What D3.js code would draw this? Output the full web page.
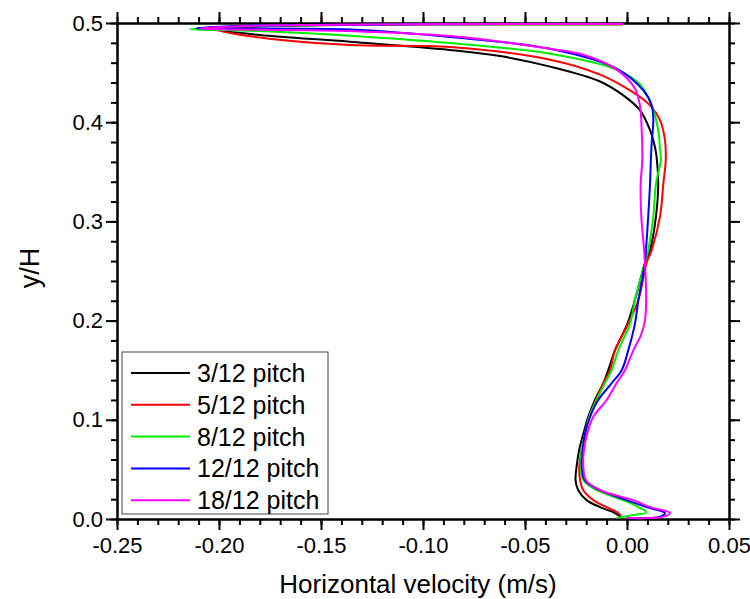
<!DOCTYPE html>
<head>
  <title>Horizontal velocity profiles</title>
  <meta charset="utf-8">
  <style>
    body { margin: 0; background: #fff; }
    text { font-family: "Liberation Sans", Arial, sans-serif; fill: #000; }
  </style>
</head>
<body>
  <script src="https://cdn.jsdelivr.net/npm/d3@7"></script>
  <script>
    // series: [velocity (m/s), y/H]
    var pitch3 = [
      [-0.0031, 0.002], [-0.0059, 0.006], [-0.0132, 0.012], [-0.0198, 0.019], [-0.0239, 0.029],
      [-0.0252, 0.039], [-0.0247, 0.053], [-0.0234, 0.070], [-0.0214, 0.086], [-0.0190, 0.103],
      [-0.0157, 0.120], [-0.0116, 0.137], [-0.0092, 0.150], [-0.0059, 0.170], [0.0002, 0.197],
      [0.0039, 0.221], [0.0088, 0.258], [0.0113, 0.271], [0.0142, 0.305], [0.0153, 0.338],
      [0.0145, 0.365], [0.0137, 0.375], [0.0113, 0.392], [0.0064, 0.412], [-0.0018, 0.427],
      [-0.0132, 0.441], [-0.0377, 0.456], [-0.0623, 0.4667], [-0.0868, 0.4728], [-0.1358, 0.4812],
      [-0.1799, 0.4879], [-0.2005, 0.4935], [-0.185, 0.4963], [-0.15, 0.4978], [-0.1, 0.4987],
      [-0.002, 0.4988]
    ];
    var pitch5 = [
      [-0.0026, 0.002], [-0.0043, 0.006], [-0.0100, 0.012], [-0.0165, 0.019], [-0.0214, 0.029],
      [-0.0230, 0.039], [-0.0234, 0.053], [-0.0222, 0.070], [-0.0206, 0.086], [-0.0185, 0.103],
      [-0.0152, 0.120], [-0.0116, 0.137], [-0.0083, 0.150], [-0.0059, 0.170], [0.0006, 0.197],
      [0.0056, 0.221], [0.0096, 0.258], [0.0121, 0.271], [0.0162, 0.305], [0.0178, 0.338],
      [0.0190, 0.362], [0.0186, 0.382], [0.0162, 0.402], [0.0113, 0.417], [0.0015, 0.432],
      [-0.0132, 0.448], [-0.0377, 0.463], [-0.0868, 0.4758], [-0.1358, 0.4778], [-0.1799, 0.4854],
      [-0.2015, 0.4935], [-0.185, 0.4965], [-0.15, 0.4979], [-0.1, 0.4987], [-0.002, 0.4988]
    ];
    var pitch8 = [
      [-0.0051, 0.001], [0.0031, 0.004], [0.0096, 0.0067], [0.0056, 0.012], [-0.0018, 0.019],
      [-0.0149, 0.029], [-0.0214, 0.039], [-0.0227, 0.053], [-0.0222, 0.070], [-0.0206, 0.086],
      [-0.0185, 0.103], [-0.0149, 0.120], [-0.0108, 0.137], [-0.0075, 0.150], [-0.0043, 0.170],
      [0.0015, 0.197], [0.0039, 0.221], [0.0088, 0.258], [0.0104, 0.271], [0.0129, 0.305],
      [0.0142, 0.338], [0.0166, 0.362], [0.0162, 0.372], [0.0153, 0.392], [0.0121, 0.417],
      [0.0064, 0.438], [-0.0051, 0.453], [-0.0377, 0.469], [-0.0868, 0.4798], [-0.1358, 0.4872],
      [-0.1799, 0.4919], [-0.2142, 0.4938], [-0.19, 0.4964], [-0.15, 0.4979], [-0.1, 0.4987],
      [-0.002, 0.4988]
    ];
    var pitch12 = [
      [-0.0002, 0.001], [0.0162, 0.0024], [0.0186, 0.006], [0.0096, 0.012], [-0.0002, 0.019],
      [-0.0132, 0.029], [-0.0206, 0.039], [-0.0222, 0.053], [-0.0217, 0.070], [-0.0206, 0.086],
      [-0.0181, 0.103], [-0.0141, 0.120], [-0.0075, 0.137], [-0.0026, 0.150], [0.0006, 0.170],
      [0.0039, 0.197], [0.0056, 0.221], [0.0088, 0.258], [0.0093, 0.271], [0.0104, 0.305],
      [0.0113, 0.338], [0.0117, 0.362], [0.0121, 0.379], [0.0129, 0.402], [0.0121, 0.417],
      [0.0080, 0.432], [-0.0051, 0.454], [-0.0377, 0.474], [-0.0868, 0.4859], [-0.1358, 0.4935],
      [-0.2110, 0.4948], [-0.19, 0.4970], [-0.15, 0.4982], [-0.1, 0.4988], [-0.002, 0.4989]
    ];
    var pitch18 = [
      [-0.0002, 0.001], [0.0178, 0.0024], [0.0211, 0.006], [0.0113, 0.012], [0.0031, 0.019],
      [-0.0132, 0.029], [-0.0201, 0.039], [-0.0214, 0.053], [-0.0211, 0.070], [-0.0195, 0.086],
      [-0.0165, 0.103], [-0.0100, 0.120], [-0.0051, 0.137], [-0.0010, 0.150], [0.0031, 0.170],
      [0.0068, 0.185], [0.0088, 0.200], [0.0094, 0.221], [0.0090, 0.250], [0.0084, 0.271],
      [0.0070, 0.305], [0.0067, 0.338], [0.0075, 0.362], [0.0072, 0.392], [0.0064, 0.416],
      [0.0039, 0.434], [-0.0051, 0.453], [-0.0214, 0.468], [-0.0377, 0.474], [-0.0868, 0.4869],
      [-0.1358, 0.4919], [-0.2093, 0.4945], [-0.19, 0.4968], [-0.15, 0.4981], [-0.1, 0.4988],
      [-0.002, 0.4989]
    ];

    var seriesNames = ["3/12 pitch", "5/12 pitch", "8/12 pitch", "12/12 pitch", "18/12 pitch"];
    var seriesColors = ["#000000", "#ff0000", "#00ee00", "#0000ff", "#ff00ff"];
    var seriesData = [pitch3, pitch5, pitch8, pitch12, pitch18];

    var xTicks = [-0.25, -0.20, -0.15, -0.10, -0.05, 0.00, 0.05];
    var yTicks = [0.0, 0.1, 0.2, 0.3, 0.4, 0.5];

    var W = 750, H = 599;
    var plot = {left: 117, right: 729, top: 23, bottom: 519};

    var svg = d3.select("body").append("svg")
      .attr("width", W)
      .attr("height", H);

    var x = d3.scaleLinear().domain([-0.25, 0.05]).range([plot.left, plot.right]);
    var y = d3.scaleLinear().domain([0, 0.5]).range([plot.bottom, plot.top]);

    var xMinor = d3.range(-25, 6).map(function(i) { return i / 100; });
    var yMinor = d3.range(0, 26).map(function(i) { return i / 50; });

    function styleAxis(g) {
      g.selectAll(".domain").attr("stroke", "#000").attr("stroke-width", 2);
      g.selectAll(".tick line").attr("stroke", "#000").attr("stroke-width", 2);
      g.selectAll(".tick text").style("font-size", "22px")
        .style("font-family", '"Liberation Sans", Arial, sans-serif').attr("fill", "#000");
    }

    // minor ticks on all four sides
    svg.append("g").attr("transform", "translate(0," + plot.bottom + ")")
      .call(d3.axisBottom(x).tickValues(xMinor).tickSize(6).tickSizeOuter(0).tickFormat(""))
      .call(styleAxis);
    svg.append("g").attr("transform", "translate(0," + plot.top + ")")
      .call(d3.axisTop(x).tickValues(xMinor).tickSize(6).tickSizeOuter(0).tickFormat(""))
      .call(styleAxis);
    svg.append("g").attr("transform", "translate(" + plot.left + ",0)")
      .call(d3.axisLeft(y).tickValues(yMinor).tickSize(6).tickSizeOuter(0).tickFormat(""))
      .call(styleAxis);
    svg.append("g").attr("transform", "translate(" + plot.right + ",0)")
      .call(d3.axisRight(y).tickValues(yMinor).tickSize(6).tickSizeOuter(0).tickFormat(""))
      .call(styleAxis);

    // major ticks
    svg.append("g").attr("transform", "translate(0," + plot.bottom + ")")
      .call(d3.axisBottom(x).tickValues(xTicks).tickSize(11).tickSizeOuter(0).tickPadding(7)
        .tickFormat(function(d) { return d.toFixed(2); }))
      .call(styleAxis);
    svg.append("g").attr("transform", "translate(0," + plot.top + ")")
      .call(d3.axisTop(x).tickValues(xTicks).tickSize(11).tickSizeOuter(0).tickFormat(""))
      .call(styleAxis);
    svg.append("g").attr("transform", "translate(" + plot.left + ",0)")
      .call(d3.axisLeft(y).tickValues(yTicks).tickSize(11).tickSizeOuter(0).tickPadding(3)
        .tickFormat(function(d) { return d.toFixed(1); }))
      .call(styleAxis);
    svg.append("g").attr("transform", "translate(" + plot.right + ",0)")
      .call(d3.axisRight(y).tickValues(yTicks).tickSize(11).tickSizeOuter(0).tickFormat(""))
      .call(styleAxis);

    // axis titles
    svg.append("text")
      .attr("x", 418)
      .attr("y", 593)
      .attr("text-anchor", "middle")
      .style("font-size", "26px")
      .text("Horizontal velocity (m/s)");

    svg.append("text")
      .attr("transform", "translate(39," + 268 + ") rotate(-90)")
      .attr("text-anchor", "middle")
      .style("font-size", "27px")
      .text("y/H");

    // profiles
    var line = d3.line()
      .x(function(d) { return x(d[0]); })
      .y(function(d) { return y(d[1]); })
      .curve(d3.curveCatmullRom.alpha(0.5));

    svg.append("g").selectAll("path")
      .data(seriesData)
      .enter()
      .append("path")
      .attr("d", line)
      .attr("fill", "none")
      .attr("stroke", function(d, i) { return seriesColors[i]; })
      .attr("stroke-width", 2)
      .attr("stroke-linejoin", "round");

    // legend
    var legend = svg.append("g").attr("transform", "translate(122,352)");
    legend.append("rect")
      .attr("x", 0).attr("y", 0)
      .attr("width", 206).attr("height", 162)
      .attr("fill", "#fff")
      .attr("stroke", "#444")
      .attr("stroke-width", 1);

    var rows = legend.selectAll("g.row")
      .data(seriesNames)
      .enter()
      .append("g")
      .attr("class", "row")
      .attr("transform", function(d, i) { return "translate(0," + (21 + i * 31.8) + ")"; });

    rows.append("line")
      .attr("x1", 9).attr("x2", 68)
      .attr("y1", 0).attr("y2", 0)
      .attr("stroke", function(d, i) { return seriesColors[i]; })
      .attr("stroke-width", 2);

    rows.append("text")
      .attr("x", 75)
      .attr("y", 9)
      .style("font-size", "25px")
      .text(function(d) { return d; });
  </script>
</body>
